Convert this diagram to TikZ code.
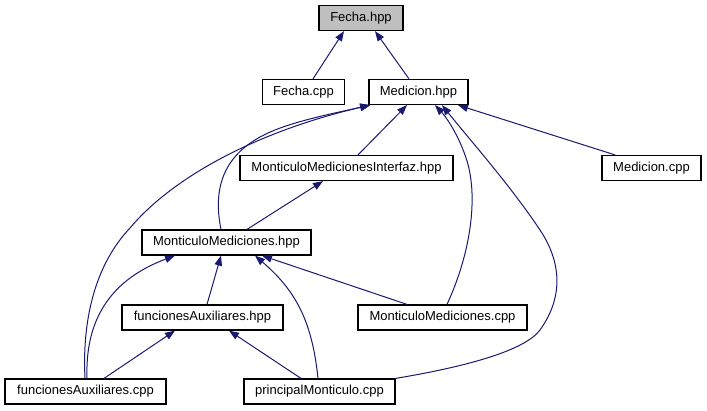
\documentclass[tikz,border=0pt]{standalone}
\usepackage{fontspec}
\setmainfont{Liberation Sans}
\usetikzlibrary{arrows.meta}
\definecolor{edgeblue}{HTML}{191970}
\definecolor{hl}{HTML}{BFBFBF}
\begin{document}
\begin{tikzpicture}[x=1pt,y=-1pt,
  filebox/.style={draw=black,line width=1.2pt,fill=white,inner sep=0pt,minimum height=25pt,
    font=\fontsize{13}{15}\selectfont,anchor=center},
  dep/.style={draw=edgeblue,line width=1pt,-{Triangle[length=10pt,width=7.5pt]}},
]
\useasboundingbox (0,0) rectangle (707,411);
% nodes
\node[filebox,fill=hl,minimum width=84pt] (fhpp) at (361,18) {Fecha.hpp};
\node[filebox,minimum width=82pt] (fcpp) at (303.5,92) {Fecha.cpp};
\node[filebox,minimum width=99pt] (mhpp) at (418.5,92) {Medicion.hpp};
\node[filebox,minimum width=213pt] (ihpp) at (346.5,168) {MonticuloMedicionesInterfaz.hpp};
\node[filebox,minimum width=99pt] (mcpp) at (651.5,168) {Medicion.cpp};
\node[filebox,minimum width=169pt] (mmhpp) at (226.5,242.5) {MonticuloMediciones.hpp};
\node[filebox,minimum width=161pt] (fahpp) at (202.5,317.5) {funcionesAuxiliares.hpp};
\node[filebox,minimum width=169pt] (mmcpp) at (442.5,317.5) {MonticuloMediciones.cpp};
\node[filebox,minimum width=161pt] (facpp) at (85.5,391.5) {funcionesAuxiliares.cpp};
\node[filebox,minimum width=151pt] (pmcpp) at (319.5,391.5) {principalMonticulo.cpp};
% edges
\draw[dep] ([xshift=9.5pt]fcpp.north) -- ([xshift=-17pt]fhpp.south);
\draw[dep] ([xshift=-9.5pt]mhpp.north) -- ([xshift=14pt]fhpp.south);
\draw[dep] ([xshift=11.5pt]ihpp.north) -- ([xshift=-11.5pt]mhpp.south);
\draw[dep] ([xshift=-36.5pt]mcpp.north) -- ([xshift=39.5pt]mhpp.south);
\draw[dep] ([xshift=20.5pt]mmhpp.north) -- ([xshift=-23.5pt]ihpp.south);
\draw[dep] ([xshift=-5.5pt]mmhpp.north) .. controls (212,185) and (225,150) .. (275,130)
  .. controls (300,120) and (335,113) .. ([xshift=-48pt]mhpp.south);
\draw[dep] ([xshift=-0.5pt]facpp.north) .. controls (82,320) and (95,265) .. (130,228)
  .. controls (172,178) and (255,132) .. ([xshift=-48.5pt]mhpp.south);
\draw[dep] ([xshift=4.5pt]mmcpp.north) .. controls (470,255) and (480,195) .. (465,155)
  .. controls (458,135) and (447,118) .. ([xshift=16.5pt]mhpp.south);
\draw[dep] (pmcpp.north east) .. controls (470,366) and (525,350) .. (540,330)
  .. controls (565,295) and (560,260) .. (540,230)
  .. controls (510,185) and (470,140) .. ([xshift=23.5pt]mhpp.south);
\draw[dep] ([xshift=4.5pt]fahpp.north) -- ([xshift=-5.5pt]mmhpp.south);
\draw[dep] ([xshift=1.5pt]facpp.north) .. controls (85,320) and (110,280) .. ([xshift=-51.5pt]mmhpp.south);
\draw[dep] ([xshift=-35.5pt]mmcpp.north) -- ([xshift=35.5pt]mmhpp.south);
\draw[dep] ([xshift=-1.5pt]pmcpp.north) .. controls (312,320) and (295,290) .. ([xshift=28.5pt]mmhpp.south);
\draw[dep] ([xshift=18.5pt]facpp.north) -- ([xshift=-27.5pt]fahpp.south);
\draw[dep] ([xshift=-18.5pt]pmcpp.north) -- ([xshift=26.5pt]fahpp.south);
\end{tikzpicture}
\end{document}
